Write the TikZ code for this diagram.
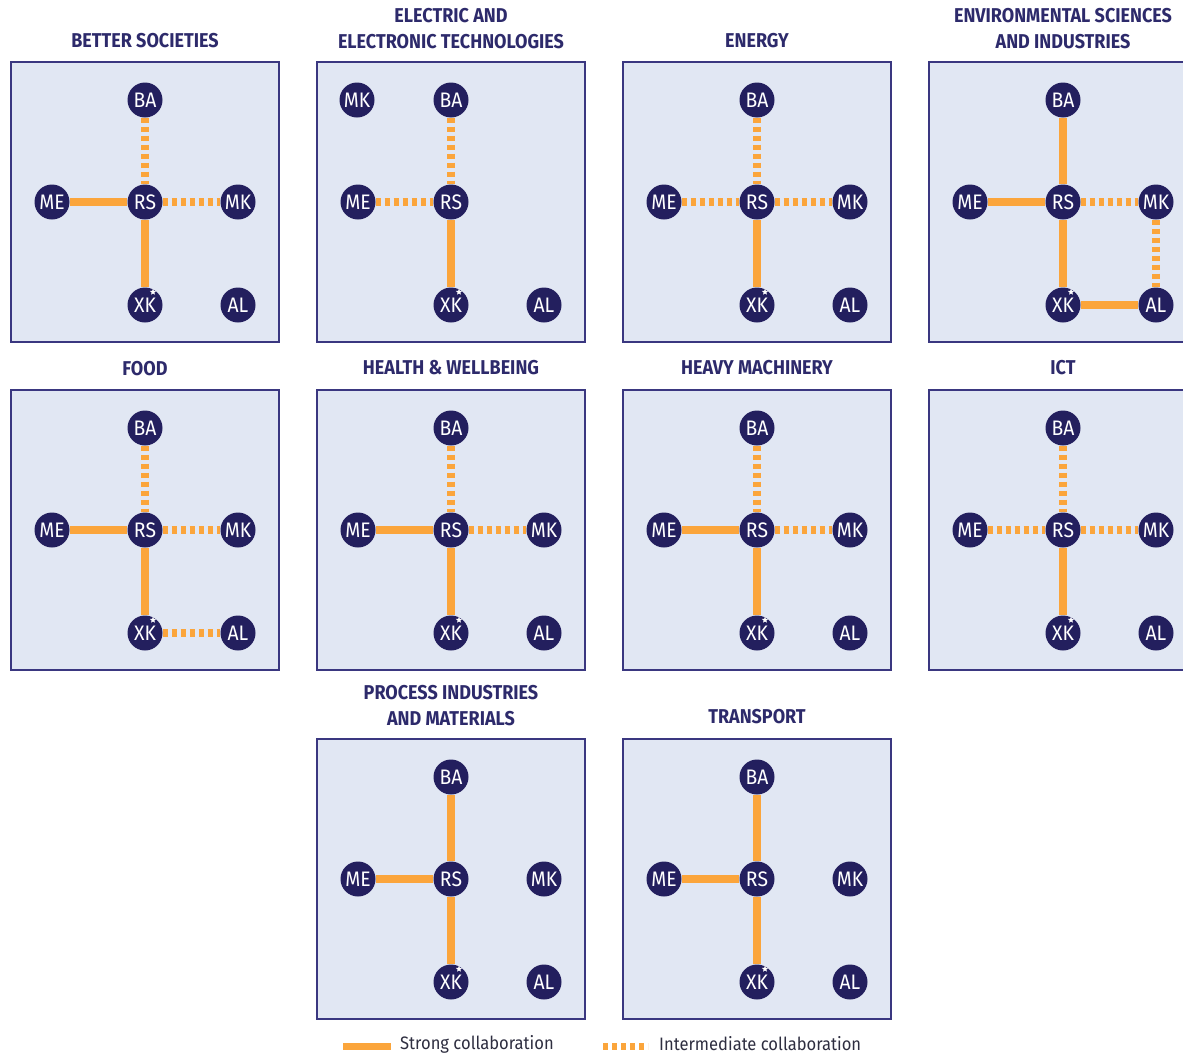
\documentclass[tikz,border=0pt]{standalone}
\usepackage{fontspec}
\setmainfont{Fira Sans}
\newfontfamily\titlefont[FakeStretch=0.9]{Fira Sans}
\newfontfamily\nodefont[FakeStretch=0.92]{Fira Sans}
\newfontfamily\legfont[FakeStretch=0.92]{Fira Sans}
\usetikzlibrary{backgrounds,shapes.geometric,calc}
\definecolor{navy}{HTML}{231F5E}
\definecolor{boxfill}{HTML}{E1E7F3}
\definecolor{boxline}{HTML}{3A3780}
\definecolor{orng}{HTML}{FBA53B}
\definecolor{ttl}{HTML}{2D2A6B}
\definecolor{legtxt}{HTML}{2E2E40}
\tikzset{
  panelbox/.style={draw=boxline, fill=boxfill, line width=1.8pt},
  inst/.style={circle, fill=navy, text=white, minimum size=35pt, inner sep=0pt,
    font=\nodefont\fontsize{21}{21}\selectfont},
  strong/.style={draw=orng, line width=8pt},
  inter/.style={draw=orng, line width=8pt, dash pattern=on 5pt off 4pt},
  ttlstyle/.style={text=ttl, font=\titlefont\bfseries\fontsize{20}{26}\selectfont, align=center},
  legstyle/.style={text=legtxt, font=\legfont\fontsize{18}{18}\selectfont, anchor=west, inner sep=0pt},
  starmark/.style={star, star points=5, star point ratio=2.2, fill=white, minimum size=6.5pt, inner sep=0pt},
}
% #1 prefix, #2 x, #3 y  (box, BA, ME, RS, XK, AL; MK placed separately)
\newcommand\mypanel[3]{%
  \begin{scope}[shift={(#2,#3)}]
    \begin{pgfonlayer}{background}
      \draw[panelbox] (0,0) rectangle (268,280);
    \end{pgfonlayer}
    \node[inst] (#1BA) at (134,38) {BA};
    \node[inst] (#1ME) at (41,140) {ME};
    \node[inst] (#1RS) at (134,140) {RS};
    \node[inst] (#1XK) at (134,243) {XK};
    \node[starmark] (#1st) at (142,230) {};
    \node[inst] (#1AL) at (227,243) {AL};
  \end{scope}}
\newcommand\mymk[3]{\node[inst] (#1MK) at ($(#2,#3)+(227,140)$) {MK};}
\begin{document}
\begin{tikzpicture}[x=1pt,y=-1pt]
\useasboundingbox (0,0) rectangle (1183,1055);
\begin{pgfonlayer}{background}
\fill[white] (0,0) rectangle (1183,1055);
\end{pgfonlayer}

% titles
\node[ttlstyle] (t1) at (145,41) {BETTER SOCIETIES};
\node[ttlstyle] (t2) at (451,29) {ELECTRIC AND\\ELECTRONIC TECHNOLOGIES};
\node[ttlstyle] (t3) at (757,41) {ENERGY};
\node[ttlstyle] (t4) at (1063,29) {ENVIRONMENTAL SCIENCES\\AND INDUSTRIES};
\node[ttlstyle] (t5) at (145,369) {FOOD};
\node[ttlstyle] (t6) at (451,368) {HEALTH \& WELLBEING};
\node[ttlstyle] (t7) at (757,368) {HEAVY MACHINERY};
\node[ttlstyle] (t8) at (1063,368) {ICT};
\node[ttlstyle] (t9) at (451,706) {PROCESS INDUSTRIES\\AND MATERIALS};
\node[ttlstyle] (t10) at (757,717) {TRANSPORT};

% panels
\mypanel{a}{11}{62}   \mymk{a}{11}{62}
\mypanel{b}{317}{62}  \node[inst] (bMK) at (357,100) {MK};
\mypanel{c}{623}{62}  \mymk{c}{623}{62}
\mypanel{d}{929}{62}  \mymk{d}{929}{62}
\mypanel{e}{11}{390}  \mymk{e}{11}{390}
\mypanel{f}{317}{390} \mymk{f}{317}{390}
\mypanel{g}{623}{390} \mymk{g}{623}{390}
\mypanel{h}{929}{390} \mymk{h}{929}{390}
\mypanel{i}{317}{739} \mymk{i}{317}{739}
\mypanel{j}{623}{739} \mymk{j}{623}{739}

\begin{pgfonlayer}{background}
% Better societies
\draw[inter] (aBA) -- (aRS); \draw[strong] (aME) -- (aRS);
\draw[inter] (aRS) -- (aMK); \draw[strong] (aRS) -- (aXK);
% Electric
\draw[inter] (bBA) -- (bRS); \draw[inter] (bME) -- (bRS);
\draw[strong] (bRS) -- (bXK);
% Energy
\draw[inter] (cBA) -- (cRS); \draw[inter] (cME) -- (cRS);
\draw[inter] (cRS) -- (cMK); \draw[strong] (cRS) -- (cXK);
% Environmental
\draw[strong] (dBA) -- (dRS); \draw[strong] (dME) -- (dRS);
\draw[inter] (dRS) -- (dMK); \draw[strong] (dRS) -- (dXK);
\draw[inter] (dMK) -- (dAL); \draw[strong] (dXK) -- (dAL);
% Food
\draw[inter] (eBA) -- (eRS); \draw[strong] (eME) -- (eRS);
\draw[inter] (eRS) -- (eMK); \draw[strong] (eRS) -- (eXK);
\draw[inter] (eXK) -- (eAL);
% Health
\draw[inter] (fBA) -- (fRS); \draw[strong] (fME) -- (fRS);
\draw[inter] (fRS) -- (fMK); \draw[strong] (fRS) -- (fXK);
% Heavy machinery
\draw[inter] (gBA) -- (gRS); \draw[strong] (gME) -- (gRS);
\draw[inter] (gRS) -- (gMK); \draw[strong] (gRS) -- (gXK);
% ICT
\draw[inter] (hBA) -- (hRS); \draw[inter] (hME) -- (hRS);
\draw[inter] (hRS) -- (hMK); \draw[strong] (hRS) -- (hXK);
% Process
\draw[strong] (iBA) -- (iRS); \draw[strong] (iME) -- (iRS);
\draw[strong] (iRS) -- (iXK);
% Transport
\draw[strong] (jBA) -- (jRS); \draw[strong] (jME) -- (jRS);
\draw[strong] (jRS) -- (jXK);
\end{pgfonlayer}

% legend
\coordinate (ls1) at (343,1046);
\coordinate (ls2) at (391,1046);
\draw[draw=orng, line width=7pt] (ls1) -- (ls2);
\node[legstyle] (lt1) at (400,1044) {Strong collaboration};
\coordinate (li1) at (603,1046);
\coordinate (li2) at (648,1046);
\draw[draw=orng, line width=7pt, dash pattern=on 5pt off 4pt] (li1) -- (li2);
\node[legstyle] (lt2) at (659,1044) {Intermediate collaboration};
\end{tikzpicture}
\end{document}
